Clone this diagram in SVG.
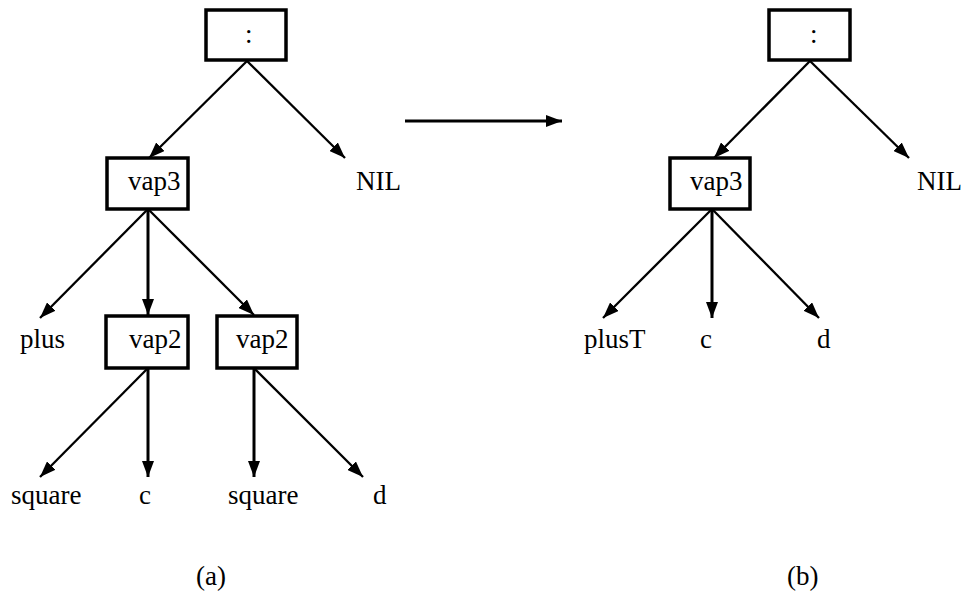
<svg xmlns="http://www.w3.org/2000/svg" width="963" height="592" viewBox="0 0 963 592">
<defs>
<marker id="ah" markerUnits="userSpaceOnUse" markerWidth="18" markerHeight="12" refX="16" refY="6" orient="auto">
<path d="M0,0 L16,6 L0,12 Z" fill="#000"/>
</marker>
<style>
.box{fill:#fff;stroke:#000;stroke-width:3.5}
.t{font-family:"Liberation Serif","Times New Roman",serif;font-size:27px;fill:#000}
.e{stroke:#000;stroke-width:2.3;fill:none;marker-end:url(#ah)}
.v{stroke:#000;stroke-width:3;fill:none;marker-end:url(#ah)}
</style>
</defs>
<rect width="963" height="592" fill="#fff"/>
<g id="connectors">
<line class="e" x1="247" y1="61" x2="149" y2="158"/>
<line class="e" x1="247" y1="61" x2="345" y2="158"/>
<line class="e" x1="148" y1="209" x2="40" y2="318"/>
<line class="v" x1="148" y1="209" x2="148" y2="315"/>
<line class="e" x1="148" y1="209" x2="254" y2="315"/>
<line class="e" x1="148" y1="368" x2="40" y2="477"/>
<line class="v" x1="148" y1="368" x2="148" y2="477"/>
<line class="v" x1="254" y1="368" x2="254" y2="477"/>
<line class="e" x1="254" y1="368" x2="363" y2="477"/>
<line class="v" x1="405" y1="121" x2="562" y2="121"/>
<line class="e" x1="810" y1="61" x2="714" y2="158"/>
<line class="e" x1="810" y1="61" x2="909" y2="158"/>
<line class="e" x1="712" y1="209" x2="603" y2="318"/>
<line class="v" x1="712" y1="209" x2="712" y2="318"/>
<line class="e" x1="712" y1="209" x2="819" y2="318"/>
</g>
<g id="a-cons"><rect class="box" x="206" y="10" width="80" height="50"/><text class="t" x="245" y="43">:</text></g>
<g id="a-vap3"><rect class="box" x="107" y="158" width="81" height="51"/><text class="t" x="128" y="190">vap3</text></g>
<g id="a-nil"><text class="t" x="356" y="190">NIL</text></g>
<g id="a-plus"><text class="t" x="20" y="348">plus</text></g>
<g id="a-vap2a"><rect class="box" x="106" y="316" width="82" height="52"/><text class="t" x="129" y="348">vap2</text></g>
<g id="a-vap2b"><rect class="box" x="217" y="316" width="80" height="52"/><text class="t" x="236" y="348">vap2</text></g>
<g id="a-square1"><text class="t" x="11" y="504">square</text></g>
<g id="a-c"><text class="t" x="139" y="504">c</text></g>
<g id="a-square2"><text class="t" x="228" y="504">square</text></g>
<g id="a-d"><text class="t" x="373" y="504">d</text></g>
<g id="label-a"><text class="t" x="196" y="585">(a)</text></g>
<g id="b-cons"><rect class="box" x="769" y="10" width="81" height="50"/><text class="t" x="810" y="43">:</text></g>
<g id="b-vap3"><rect class="box" x="670" y="158" width="80" height="51"/><text class="t" x="690" y="190">vap3</text></g>
<g id="b-nil"><text class="t" x="917" y="190">NIL</text></g>
<g id="b-plusT"><text class="t" x="584" y="348">plusT</text></g>
<g id="b-c"><text class="t" x="700" y="348">c</text></g>
<g id="b-d"><text class="t" x="817" y="348">d</text></g>
<g id="label-b"><text class="t" x="787" y="585">(b)</text></g>
</svg>
